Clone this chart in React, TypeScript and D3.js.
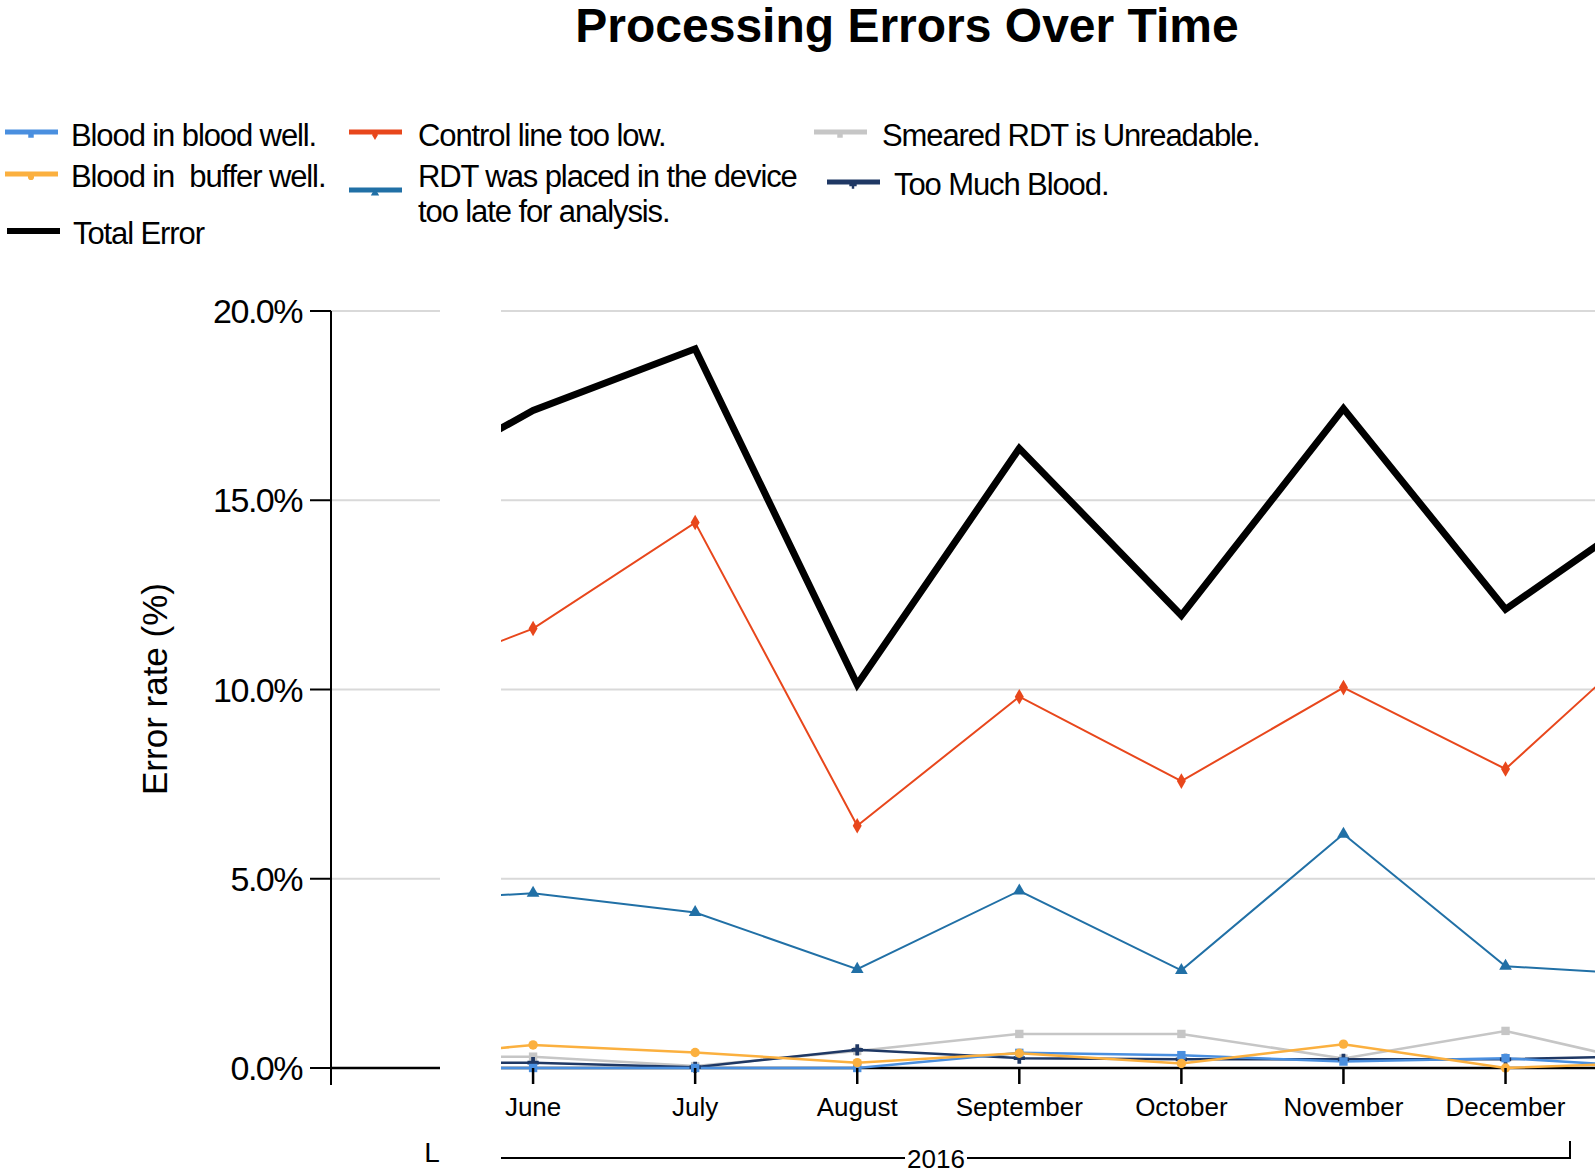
import React from "react";
import * as d3 from "d3";

const months = ["May", "June", "July", "August", "September", "October", "November", "December", "January"];
const tickMonths = ["June", "July", "August", "September", "October", "November", "December"];
const yTicks = [0, 5, 10, 15, 20];

const totalError = [15.0, 17.37, 19.0, 10.13, 16.37, 11.96, 17.42, 12.12, 15.1];
const controlLine = [9.95, 11.61, 14.41, 6.4, 9.81, 7.58, 10.05, 7.9, 11.8];
const rdtLate = [4.36, 4.62, 4.11, 2.61, 4.68, 2.58, 6.18, 2.69, 2.44];
const bufferWell = [0.2, 0.61, 0.41, 0.14, 0.39, 0.12, 0.63, 0.0, 0.15];
const smeared = [0.3, 0.3, 0.05, 0.45, 0.9, 0.9, 0.25, 0.98, 0.0];
const tooMuch = [0.15, 0.14, 0.02, 0.48, 0.26, 0.23, 0.23, 0.23, 0.33];
const bloodWell = [0.0, 0.0, 0.0, 0.0, 0.4, 0.34, 0.17, 0.26, 0.0];

const seriesNames = [
  "Smeared RDT is Unreadable.",
  "Too Much Blood.",
  "Blood in blood well.",
  "Blood in buffer well.",
  "RDT was placed in the device too late for analysis.",
  "Control line too low.",
  "Total Error",
];

const FONT = "'Liberation Sans', Arial, sans-serif";

export default function App() {
  const W = 1595;
  const H = 1174;
  const y = d3.scaleLinear().domain([0, 20]).range([1068, 311]);
  const x = d3.scalePoint<string>().domain(months).range([371, 1667.6]);

  const series = [
    { name: seriesNames[0], values: smeared, color: "#c6c6c6", width: 2.5, symbol: d3.symbolSquare },
    { name: seriesNames[1], values: tooMuch, color: "#1f3864", width: 2.5, symbol: d3.symbolCross },
    { name: seriesNames[2], values: bloodWell, color: "#4a8fdf", width: 2.5, symbol: d3.symbolSquare },
    { name: seriesNames[3], values: bufferWell, color: "#fbb03f", width: 2.5, symbol: d3.symbolCircle },
    { name: seriesNames[4], values: rdtLate, color: "#2170a6", width: 2, symbol: d3.symbolTriangle },
    { name: seriesNames[5], values: controlLine, color: "#e8471c", width: 2, symbol: d3.symbolDiamond },
    { name: seriesNames[6], values: totalError, color: "#000000", width: 7, symbol: null },
  ];

  const line = d3
    .line<number>()
    .x((_, i) => x(months[i]) as number)
    .y((d) => y(d));

  const fmt = (v: number) => d3.format(".1f")(v) + "%";

  const plotLeft = 501;
  const plotRight = W;

  const legend = [
    { idx: 2, sx: 5, sy: 132, tx: 71, ty: 146, lines: ["Blood in blood well."] },
    { idx: 3, sx: 5, sy: 174, tx: 71, ty: 187, lines: ["Blood in  buffer well."] },
    { idx: 6, sx: 7, sy: 231, tx: 73, ty: 244, lines: ["Total Error"] },
    { idx: 5, sx: 349, sy: 132, tx: 418, ty: 146, lines: ["Control line too low."] },
    { idx: 4, sx: 349, sy: 190, tx: 418, ty: 187, lines: ["RDT was placed in the device", "too late for analysis."] },
    { idx: 0, sx: 814, sy: 132, tx: 882, ty: 146, lines: ["Smeared RDT is Unreadable."] },
    { idx: 1, sx: 827, sy: 182, tx: 894, ty: 195, lines: ["Too Much Blood."] },
  ];

  return (
    <svg
      width={W}
      height={H}
      style={{ position: "absolute", left: 0, top: 0, background: "#fff" }}
      fontFamily={FONT}
    >
      <defs>
        <clipPath id="plotClip">
          <rect x={plotLeft} y={0} width={plotRight - plotLeft} height={H} />
        </clipPath>
      </defs>
      <rect x={0} y={0} width={W} height={H} fill="#fff" />

      {/* Title */}
      <text x={907} y={42} textAnchor="middle" fontSize={48} fontWeight="bold" fill="#000">
        Processing Errors Over Time
      </text>

      {/* Legend */}
      {legend.map((l, k) => {
        const s = series[l.idx];
        const sym = s.symbol ? d3.symbol().type(s.symbol).size(30)() : null;
        return (
          <g key={k}>
            <line
              x1={l.sx}
              x2={l.sx + 53}
              y1={l.sy}
              y2={l.sy}
              stroke={s.color}
              strokeWidth={s.symbol ? 5 : 6}
            />
            {sym && <path d={sym as string} transform={`translate(${l.sx + 26},${l.sy + 3})`} fill={s.color} />}
            {l.lines.map((t, j) => (
              <text
                key={j}
                x={l.tx}
                y={l.ty + j * 35}
                fontSize={31}
                letterSpacing={-1.1}
                fill="#000"
                style={{ whiteSpace: "pre" }}
              >
                {t}
              </text>
            ))}
          </g>
        );
      })}

      {/* Gridlines */}
      {yTicks.map((t) => (
        <g key={t}>
          <line
            x1={331}
            x2={440}
            y1={y(t)}
            y2={y(t)}
            stroke={t === 0 ? "#000" : "#d9d9d9"}
            strokeWidth={t === 0 ? 2.5 : 2}
          />
          <line
            x1={plotLeft}
            x2={plotRight}
            y1={y(t)}
            y2={y(t)}
            stroke={t === 0 ? "#000" : "#d9d9d9"}
            strokeWidth={t === 0 ? 2.5 : 2}
          />
        </g>
      ))}

      {/* Y axis */}
      <line x1={331} x2={331} y1={y(20)} y2={y(0) + 17} stroke="#000" strokeWidth={2} />
      {yTicks.map((t) => (
        <g key={"yt" + t}>
          <line x1={310} x2={331} y1={y(t)} y2={y(t)} stroke="#000" strokeWidth={2} />
          <text x={302} y={y(t) + 12} textAnchor="end" fontSize={34} letterSpacing={-1.5} fill="#000">
            {fmt(t)}
          </text>
        </g>
      ))}
      <text
        transform={`translate(167,689) rotate(-90)`}
        textAnchor="middle"
        fontSize={35}
        fill="#000"
      >
        Error rate  (%)
      </text>

      {/* Series */}
      <g clipPath="url(#plotClip)">
        {series.map((s) => (
          <path
            key={s.name}
            d={line(s.values) as string}
            fill="none"
            stroke={s.color}
            strokeWidth={s.width}
            strokeLinejoin="miter"
          />
        ))}
        {series.map((s) =>
          s.symbol
            ? s.values.map((v, i) => (
                <path
                  key={s.name + i}
                  d={d3.symbol().type(s.symbol as any).size(70)() as string}
                  transform={`translate(${x(months[i])},${y(v)})`}
                  fill={s.color}
                />
              ))
            : null
        )}
      </g>

      {/* X ticks and labels */}
      {tickMonths.map((m) => (
        <g key={m}>
          <line x1={x(m)} x2={x(m)} y1={y(0)} y2={y(0) + 16} stroke="#000" strokeWidth={2.5} />
          <text x={x(m)} y={1116} textAnchor="middle" fontSize={26} fill="#000">
            {m}
          </text>
        </g>
      ))}

      {/* Year bracket */}
      <text x={432} y={1162} textAnchor="middle" fontSize={28} fill="#000">
        L
      </text>
      <line x1={plotLeft} x2={1570} y1={1158} y2={1158} stroke="#000" strokeWidth={2} />
      <line x1={1570} x2={1570} y1={1141} y2={1159} stroke="#000" strokeWidth={2} />
      <rect x={905} y={1144} width={62} height={28} fill="#fff" />
      <text x={936} y={1168} textAnchor="middle" fontSize={26} fill="#000">
        2016
      </text>
    </svg>
  );
}
